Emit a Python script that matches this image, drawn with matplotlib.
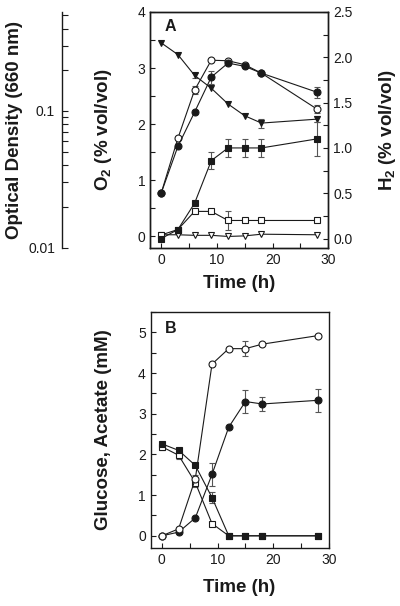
import numpy as np
import matplotlib
matplotlib.use('Agg')
import matplotlib.pyplot as plt
from matplotlib.ticker import MultipleLocator

plt.rcParams['font.family'] = ['Liberation Sans', 'DejaVu Sans']
plt.rcParams['mathtext.fontset'] = 'custom'
plt.rcParams['mathtext.rm'] = 'Liberation Sans:bold'
plt.rcParams['mathtext.it'] = 'Liberation Sans:bold'
plt.rcParams['mathtext.bf'] = 'Liberation Sans:bold'

time = [0, 3, 6, 9, 12, 15, 18, 28]

## Panel A
# optical density (circles)
od_closed = [0.025, 0.055, 0.098, 0.177, 0.224, 0.212, 0.189, 0.137]
od_closed_err = [0, 0, 0, 0.02, 0, 0, 0, 0.013]
od_open = [0.025, 0.063, 0.142, 0.235, 0.233, 0.218, 0.189, 0.103]
od_open_err = [0, 0, 0.01, 0, 0, 0, 0, 0.007]
# O2 (triangles)
o2_closed = [3.45, 3.24, 2.87, 2.64, 2.36, 2.15, 2.02, 2.09]
o2_closed_err = [0, 0, 0.05, 0, 0, 0, 0.08, 0.05]
o2_open = [0.03, 0.03, 0.02, 0.02, 0.0, 0.01, 0.04, 0.03]
# H2 (squares)
h2_closed = [0.0, 0.1, 0.39, 0.86, 1.0, 1.0, 1.0, 1.1]
h2_closed_err = [0, 0, 0, 0.09, 0.1, 0.1, 0.1, 0.19]
h2_open = [0.04, 0.1, 0.3, 0.3, 0.2, 0.2, 0.2, 0.2]
h2_open_err = [0, 0, 0, 0, 0.1, 0, 0, 0]

## Panel B
ace_open = [0, 0.17, 1.40, 4.22, 4.60, 4.60, 4.71, 4.92]
ace_open_err = [0, 0, 0.1, 0.05, 0, 0.18, 0, 0.05]
ace_closed = [0, 0.09, 0.44, 1.51, 2.67, 3.30, 3.24, 3.33]
ace_closed_err = [0, 0, 0, 0.29, 0, 0.29, 0.18, 0.29]
glc_closed = [2.26, 2.10, 1.73, 0.94, 0, 0, 0, 0]
glc_closed_err = [0, 0, 0, 0.13, 0, 0, 0, 0]
glc_open = [2.19, 1.98, 1.31, 0.30, 0, 0, 0, 0]
glc_open_err = [0.07, 0.1, 0.1, 0, 0, 0, 0, 0]

ink = '#1a1a1a'
tick_fs = 10
label_fs = 13.5


def series(ax, y, err, marker, filled, ms=4.5):
    e = np.array(err, dtype=float)
    e[e == 0] = np.nan
    ax.errorbar(time, y, yerr=e, fmt='-' + marker, color=ink, lw=0.8,
                ms=ms, mec=ink, mew=0.8, mfc=ink if filled else 'white',
                ecolor='#555555', elinewidth=0.8, capsize=2.2, capthick=0.8)


def style(ax):
    ax.tick_params(which='both', direction='in', length=3.5, width=0.8,
                   labelsize=tick_fs, colors=ink)
    for s in ax.spines.values():
        s.set_linewidth(1.0)
        s.set_color(ink)


fig = plt.figure(figsize=(4, 6.06), dpi=100)

# --- panel A ---
axA = fig.add_axes([0.375, 0.5913, 0.4458, 0.389])
series(axA, o2_open, [0] * 8, 'v', False)
series(axA, o2_closed, o2_closed_err, 'v', True)
axA.set_xlim(-2, 30)
axA.set_ylim(-0.2, 4)
axA.xaxis.set_major_locator(MultipleLocator(10))
axA.xaxis.set_minor_locator(MultipleLocator(5))
axA.yaxis.set_major_locator(MultipleLocator(1))
axA.yaxis.set_minor_locator(MultipleLocator(0.5))
axA.tick_params(top=False, right=False, which='both')
style(axA)
axA.text(0.08, 0.94, 'A', transform=axA.transAxes, fontsize=11.5,
         fontweight='bold', va='center', ha='left', color=ink)

# optical density axis, far left
axOD = axA.twinx()
axOD.set_yscale('log')
axOD.set_ylim(0.01, 0.53)
series(axOD, od_open, od_open_err, 'o', False, ms=5)
series(axOD, od_closed, od_closed_err, 'o', True, ms=5)
axOD.yaxis.tick_left()
for k in ['right', 'top', 'bottom']:
    axOD.spines[k].set_visible(False)
axOD.spines['left'].set_position(('outward', 63.4))
axOD.set_yticks([0.01, 0.1], labels=['0.01', '0.1'])
axOD.set_yticks([0.02, 0.03, 0.04, 0.05, 0.06, 0.07, 0.08, 0.09,
                 0.2, 0.3, 0.4, 0.5], minor=True)
axOD.yaxis.set_minor_formatter(plt.NullFormatter())
style(axOD)
axOD.tick_params(which='both', length=4.5, pad=5)

# H2 axis, right
axH = axA.twinx()
series(axH, h2_open, h2_open_err, 's', False)
series(axH, h2_closed, h2_closed_err, 's', True)
axH.set_ylim(-0.1, 2.5)
axH.yaxis.set_major_locator(MultipleLocator(0.5))
axH.yaxis.set_minor_locator(MultipleLocator(0.25))
axH.yaxis.set_major_formatter(plt.FormatStrFormatter('%.1f'))
style(axH)

fig.text(15 / 400, 1 - 130 / 606, 'Optical Density (660 nm)', rotation=90,
         ha='center', va='center', fontsize=label_fs, fontweight='bold', color=ink)
fig.text(103 / 400, 1 - 130 / 606, r'O$_2$ (% vol/vol)', rotation=90,
         ha='center', va='center', fontsize=label_fs, fontweight='bold', color=ink)
fig.text(388 / 400, 1 - 130 / 606, r'H$_2$ (% vol/vol)', rotation=90,
         ha='center', va='center', fontsize=label_fs, fontweight='bold', color=ink)
fig.text(239 / 400, 1 - 283 / 606, 'Time (h)', ha='center', va='center',
         fontsize=label_fs, fontweight='bold', color=ink)

# --- panel B ---
axB = fig.add_axes([0.3768, 0.0957, 0.4458, 0.3894])
series(axB, glc_open, glc_open_err, 's', False)
series(axB, glc_closed, glc_closed_err, 's', True)
series(axB, ace_closed, ace_closed_err, 'o', True, ms=5)
series(axB, ace_open, ace_open_err, 'o', False, ms=5)
axB.set_xlim(-2, 30)
axB.set_ylim(-0.3, 5.5)
axB.xaxis.set_major_locator(MultipleLocator(10))
axB.xaxis.set_minor_locator(MultipleLocator(5))
axB.yaxis.set_major_locator(MultipleLocator(1))
axB.yaxis.set_minor_locator(MultipleLocator(0.5))
style(axB)
axB.text(0.08, 0.93, 'B', transform=axB.transAxes, fontsize=11.5,
         fontweight='bold', va='center', ha='left', color=ink)

fig.text(104 / 400, 1 - 430 / 606, 'Glucose, Acetate (mM)', rotation=90,
         ha='center', va='center', fontsize=label_fs, fontweight='bold', color=ink)
fig.text(239 / 400, 1 - 588 / 606, 'Time (h)', ha='center', va='center',
         fontsize=label_fs, fontweight='bold', color=ink)

plt.savefig('out.png', dpi=100)
